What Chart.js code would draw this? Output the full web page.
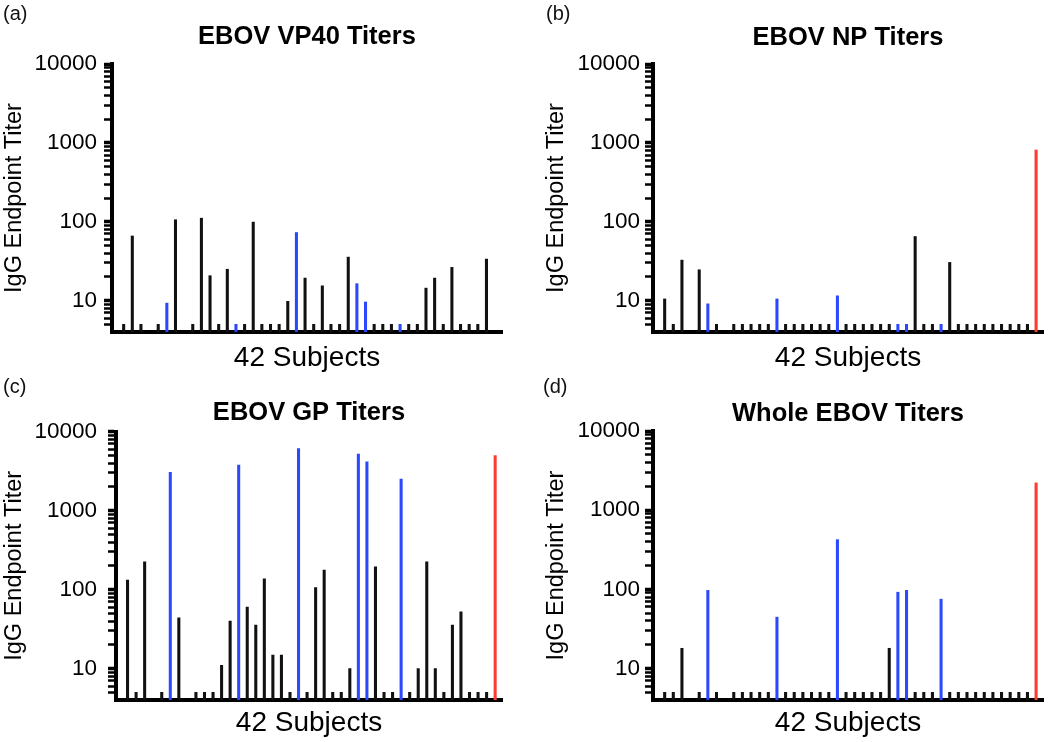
<!DOCTYPE html>
<html>
<head>
<meta charset="utf-8">
<script src="https://cdn.jsdelivr.net/npm/chart.js@4.4.1/dist/chart.umd.min.js"></script>
<style>
  html, body { margin: 0; padding: 0; background: #fff; }
  #wrap { position: relative; width: 1050px; height: 742px; overflow: hidden; background: #fff; }
  canvas { position: absolute; }
  .plabel { position: absolute; font-family: "Liberation Sans", Arial, sans-serif; font-size: 20px; line-height: 20px; color: #111; }
</style>
</head>
<body>
<div id="wrap">
  <canvas id="ca"></canvas>
  <canvas id="cb"></canvas>
  <canvas id="cc"></canvas>
  <canvas id="cd"></canvas>
  <div class="plabel" style="left:3px;top:3px;">(a)</div>
  <div class="plabel" style="left:546px;top:3px;">(b)</div>
  <div class="plabel" style="left:3px;top:376px;">(c)</div>
  <div class="plabel" style="left:543px;top:376px;">(d)</div>
</div>
<script>
// ---- Data (IgG endpoint titers per subject position; null = no bar) ----
const vp40Titers = [5, 66, 5, null, 5, 9.3, 106, null, 5, 111, 20.7, 5, 25, 5, 5, 99, 5, 5, 5, 9.8, 73, 19.3, 5, 15.4, 5, 5, 35.6, 16.4, 9.6, 5, 5, 5, 5, 5, 5, 14.4, 19.3, 5, 26.4, 5, 5, 5, 33.6, null];
const npTiters   = [10.5, 5, 32.6, null, 24.6, 9.1, 5, null, 5, 5, 5, 5, 5, 10.5, 5, 5, 5, 5, 5, 5, 11.5, 5, 5, 5, 5, 5, 5, 5, 5, 65, 5, 5, 5, 30.5, 5, 5, 5, 5, 5, 5, 5, 5, 5, 813];
const gpTiters   = [132, 5, 225, null, 5, 3050, 44, null, 5, 5, 5, 11, 40, 3780, 60, 35.6, 137, 14.8, 14.8, 5, 6130, 5, 106, 177, 5, 5, 10, 5200, 4160, 195, 5, 5, 2510, 5, 10, 225, 10, 5, 35.6, 52.5, 5, 5, 5, 5000];
const wholeTiters = [5, 5, 18, null, 5, 97, 5, null, 5, 5, 5, 5, 5, 44.5, 5, 5, 5, 5, 5, 5, 424, 5, 5, 5, 5, 5, 18, 92, 97, 5, 5, 5, 75, 5, 5, 5, 5, 5, 5, 5, 5, 5, 5, 2210];

const blueSubjects = [5, 13, 20, 27, 28, 32];
const controlSubject = 43;

const panelTitles = ['EBOV VP40 Titers', 'EBOV NP Titers', 'EBOV GP Titers', 'Whole EBOV Titers'];
const yAxisTitle = 'IgG Endpoint Titer';
const xAxisTitle = '42 Subjects';
const majorTicks = [10, 100, 1000, 10000];
const minorMultipliers = [2, 3, 4, 5, 6, 7, 8, 9];

const BLACK = '#111111', BLUE = '#2b48ff', RED = '#ff3b30';
const FAMILY = '"Liberation Sans", Arial, Helvetica, sans-serif';
Chart.defaults.font.family = FAMILY;
Chart.defaults.color = '#000';

// all log tick positions (major + minor) between 4 and 10000
const tickValues = [5, 6, 7, 8, 9];
majorTicks.forEach(m => {
  tickValues.push(m);
  if (m < 10000) minorMultipliers.forEach(k => tickValues.push(m * k));
});

const TITLE_SIZE = 25.5, YT_SIZE = 23.5, XT_SIZE = 28, TICK_SIZE = 22.5, TICK_LEN = 8;

function makePanel(id, values, title, L) {
  const cv = document.getElementById(id);
  cv.width = L.w; cv.height = L.h;
  cv.style.left = L.x + 'px'; cv.style.top = L.y + 'px';
  cv.style.width = L.w + 'px'; cv.style.height = L.h + 'px';

  const titleLH = TITLE_SIZE * 1.2;
  const tpt = L.titleCY - titleLH / 2;
  const tpb = L.area.t - tpt - titleLH;
  const ytLH = YT_SIZE * 1.2;
  const ytPad = Math.max(0, L.yTitleCX - ytLH / 2);
  const tickPad = L.area.l - TICK_LEN - L.tickRight;
  const xtLH = XT_SIZE * 1.2;
  const xpt = L.xTitleCY - L.area.b - xtLH / 2;
  const padBottom = L.h - L.area.b - xtLH - xpt;

  const pts = [], colors = [];
  values.forEach((v, i) => {
    if (v === null) return;
    pts.push({ x: i, y: v });
    colors.push(i === controlSubject ? RED : (blueSubjects.includes(i) ? BLUE : BLACK));
  });

  return new Chart(cv, {
    type: 'bar',
    data: { datasets: [{ data: pts, backgroundColor: colors, borderWidth: 0, barThickness: 2.4 }] },
    options: {
      responsive: false, animation: false, devicePixelRatio: 1,
      layout: { padding: { left: 0, top: 0, right: L.w - L.area.r, bottom: padBottom } },
      plugins: {
        legend: { display: false }, tooltip: { enabled: false },
        title: { display: true, text: title, fullSize: false, color: '#000',
                 font: { size: TITLE_SIZE, weight: 'bold', family: FAMILY },
                 padding: { top: tpt, bottom: tpb } }
      },
      scales: {
        x: {
          type: 'linear', min: -1.35, max: 43.8, offset: false,
          grid: { display: false, drawTicks: false },
          ticks: { display: false },
          border: { display: true, width: 4, color: '#000' },
          title: { display: true, text: xAxisTitle, color: '#000',
                   font: { size: XT_SIZE, family: FAMILY }, padding: { top: xpt, bottom: 0 } }
        },
        y: {
          type: 'logarithmic', min: 4, max: 10000,
          afterBuildTicks: s => { s.ticks = tickValues.map(v => ({ value: v, major: majorTicks.includes(v) })); },
          afterFit: s => { s.width = L.area.l; },
          grid: { drawOnChartArea: false, drawTicks: true, tickLength: TICK_LEN,
                  tickColor: '#000',
                  tickWidth: ctx => (ctx.tick && majorTicks.includes(ctx.tick.value)) ? 3.5 : 2.5 },
          border: { display: true, width: 4, color: '#000' },
          ticks: { autoSkip: false, padding: tickPad, color: '#000',
                   font: { size: TICK_SIZE, family: FAMILY },
                   callback: v => majorTicks.includes(v) ? String(v) : '' },
          title: { display: true, text: yAxisTitle, color: '#000',
                   font: { size: YT_SIZE, family: FAMILY }, padding: { top: ytPad, bottom: 0 } }
        }
      }
    }
  });
}

makePanel('ca', vp40Titers, panelTitles[0], { x: 0, y: 0, w: 525, h: 380,
  area: { l: 112, t: 64, r: 502, b: 332 }, titleCY: 36.7, yTitleCX: 13, tickRight: 97, xTitleCY: 358.5 });
makePanel('cb', npTiters, panelTitles[1], { x: 525, y: 0, w: 525, h: 380,
  area: { l: 128, t: 64, r: 518, b: 332 }, titleCY: 37.5, yTitleCX: 32, tickRight: 115, xTitleCY: 358.5 });
makePanel('cc', gpTiters, panelTitles[2], { x: 0, y: 371, w: 525, h: 371,
  area: { l: 116, t: 60.7, r: 502, b: 329 }, titleCY: 42.3, yTitleCX: 12.5, tickRight: 97, xTitleCY: 352.3 });
makePanel('cd', wholeTiters, panelTitles[3], { x: 525, y: 371, w: 525, h: 371,
  area: { l: 128, t: 60, r: 518, b: 329 }, titleCY: 43, yTitleCX: 32, tickRight: 115, xTitleCY: 352.3 });
</script>
</body>
</html>
